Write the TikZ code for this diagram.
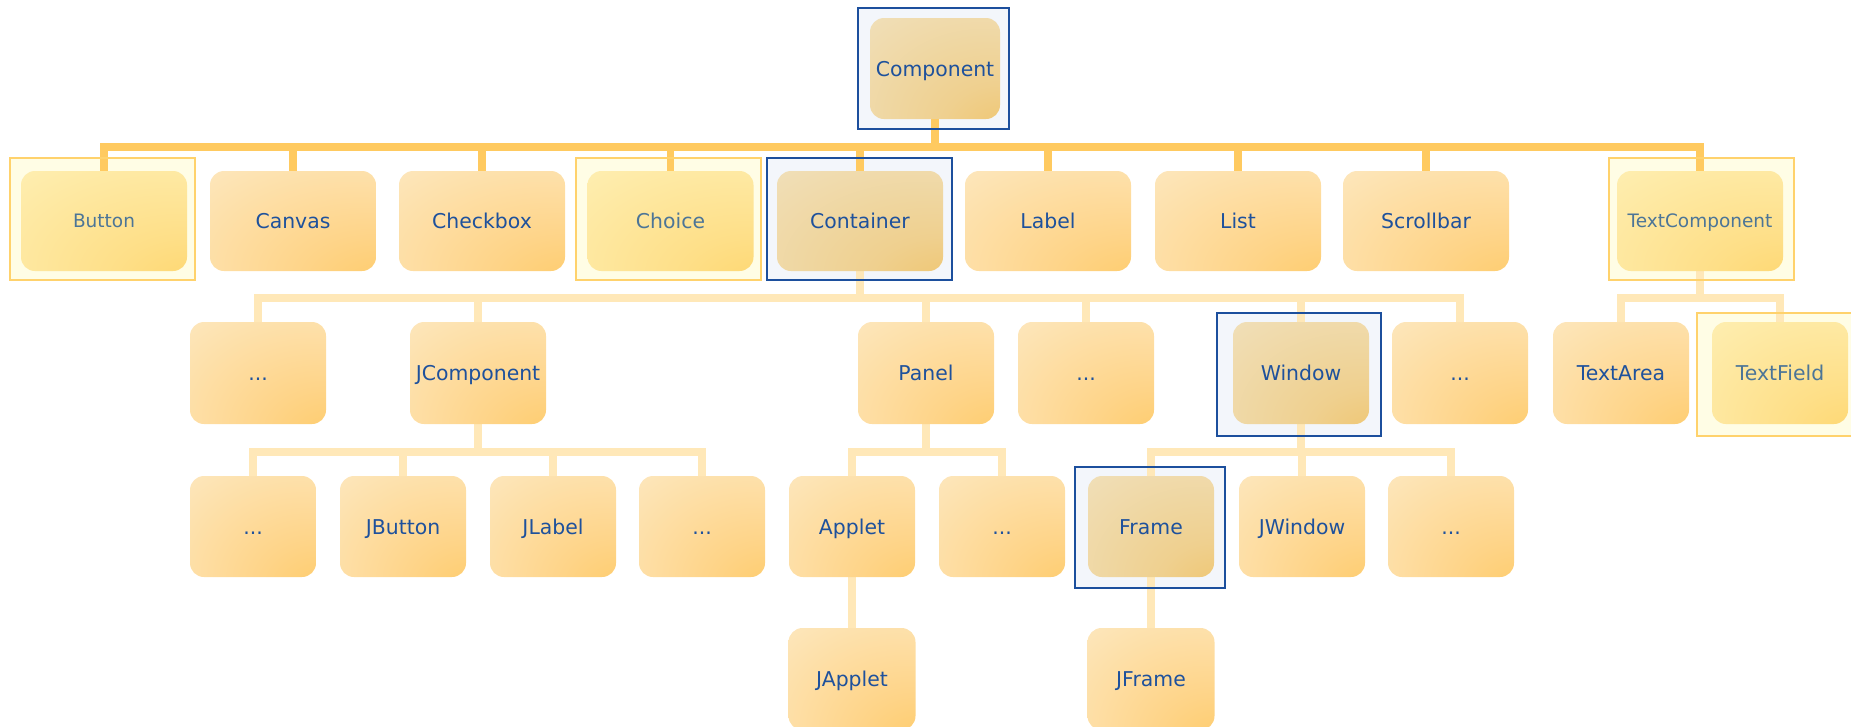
\documentclass[tikz,border=0pt]{standalone}
\usepackage{fontspec}
\setmainfont{DejaVu Sans}
\definecolor{nD}{HTML}{FFC962}
\definecolor{nM}{HTML}{FED488}
\definecolor{nL}{HTML}{FDE9C3}
\definecolor{tD}{HTML}{EEC266}
\definecolor{tM}{HTML}{EFD08F}
\definecolor{tL}{HTML}{F0E1BE}
\definecolor{yD}{HTML}{FFD468}
\definecolor{yM}{HTML}{FEDF88}
\definecolor{yL}{HTML}{FEF0B6}
\definecolor{txt}{HTML}{1E519C}
\definecolor{gtxt}{HTML}{4C7597}
\definecolor{bborder}{HTML}{1C4F9D}
\definecolor{bfill}{HTML}{F3F6FB}
\definecolor{yborder}{HTML}{FFD26C}
\definecolor{yfill}{HTML}{FFFDE5}
\definecolor{topline}{HTML}{FFCA60}
\definecolor{subline}{HTML}{FFE8B8}
\pgfdeclareradialshading{shN}{\pgfpoint{32bp}{-38bp}}{color(0bp)=(nD); color(22bp)=(nM); color(62bp)=(nL); color(100bp)=(nL)}
\pgfdeclareradialshading{shT}{\pgfpoint{32bp}{-38bp}}{color(0bp)=(tD); color(22bp)=(tM); color(62bp)=(tL); color(100bp)=(tL)}
\pgfdeclareradialshading{shY}{\pgfpoint{32bp}{-38bp}}{color(0bp)=(yD); color(22bp)=(yM); color(62bp)=(yL); color(100bp)=(yL)}
\pgfdeclarelayer{back}
\pgfdeclarelayer{lines}
\pgfsetlayers{back,lines,main}
\tikzset{
  cbox/.style={rounded corners=14pt, inner sep=0pt, outer sep=0pt, text=txt,
    font=\fontsize{20.4}{24}\selectfont, text height=15pt, text depth=0pt, shading=shN},
  tanbox/.style={cbox, shading=shT},
  yelbox/.style={cbox, shading=shY, text=gtxt},
  smalltext/.style={font=\fontsize{18.5}{22}\selectfont, text height=13.5pt},
  rowa/.style={minimum width=166pt, minimum height=100pt},
  rowb/.style={minimum width=136pt, minimum height=102pt},
  rowc/.style={minimum width=126pt, minimum height=101pt},
  rowd/.style={minimum width=127pt, minimum height=102pt},
  bframe/.style={draw=bborder, line width=2.6pt, inner sep=0pt, outer sep=0pt},
  yframe/.style={draw=yborder, line width=2.3pt, inner sep=0pt, outer sep=0pt},
  topbus/.style={draw=topline, line width=7.5pt},
  subbus/.style={draw=subline, line width=7.5pt},
}
\begin{document}
\begin{tikzpicture}[x=1pt,y=-1pt]
\useasboundingbox (0,0) rectangle (1851,726);
% frames
\node[bframe, minimum width=151pt, minimum height=121pt] (fcomp) at (933.5,68.5) {};
\node[yframe, minimum width=185pt, minimum height=122pt] (fbutton) at (102.5,219) {};
\node[yframe, minimum width=185pt, minimum height=122pt] (fchoice) at (668.5,219) {};
\node[bframe, minimum width=185pt, minimum height=122pt] (fcontainer) at (859.5,219) {};
\node[yframe, minimum width=185pt, minimum height=122pt] (ftextcomp) at (1701.5,219) {};
\node[bframe, minimum width=164pt, minimum height=123pt] (fwindow) at (1299,374.5) {};
\node[yframe, minimum width=156pt, minimum height=123pt] (ftextfield) at (1775,374.5) {};
\node[bframe, minimum width=150pt, minimum height=121pt] (fframe) at (1150,527.5) {};
\begin{pgfonlayer}{back}
\foreach \f in {fcomp,fcontainer,fwindow,fframe}
  \fill[bfill] (\f.north west) rectangle (\f.south east);
\foreach \f in {fbutton,fchoice,ftextcomp,ftextfield}
  \fill[yfill] (\f.north west) rectangle (\f.south east);
\end{pgfonlayer}
% boxes
\node[tanbox, minimum width=130pt, minimum height=101pt] (component) at (935,68.5) {Component};
\node[yelbox, rowa, smalltext] (button) at (104,221) {Button};
\node[cbox, rowa] (canvas) at (293,221) {Canvas};
\node[cbox, rowa] (checkbox) at (482,221) {Checkbox};
\node[yelbox, rowa] (choice) at (670.5,221) {Choice};
\node[tanbox, rowa] (container) at (860,221) {Container};
\node[cbox, rowa] (label) at (1048,221) {Label};
\node[cbox, rowa] (list) at (1238,221) {List};
\node[cbox, rowa] (scrollbar) at (1426,221) {Scrollbar};
\node[yelbox, rowa, smalltext] (textcomp) at (1700,221) {TextComponent};
\node[cbox, rowb] (dotsa) at (258,373) {...};
\node[cbox, rowb] (jcomp) at (478,373) {JComponent};
\node[cbox, rowb] (panel) at (926,373) {Panel};
\node[cbox, rowb] (dotsb) at (1086,373) {...};
\node[tanbox, rowb] (window) at (1301,373) {Window};
\node[cbox, rowb] (dotsc) at (1460,373) {...};
\node[cbox, rowb] (textarea) at (1621,373) {TextArea};
\node[yelbox, rowb] (textfield) at (1780,373) {TextField};
\node[cbox, rowc] (dotsd) at (253,526.5) {...};
\node[cbox, rowc] (jbutton) at (403,526.5) {JButton};
\node[cbox, rowc] (jlabel) at (553,526.5) {JLabel};
\node[cbox, rowc] (dotse) at (702,526.5) {...};
\node[cbox, rowc] (applet) at (852,526.5) {Applet};
\node[cbox, rowc] (dotsf) at (1002,526.5) {...};
\node[tanbox, rowc] (frame) at (1151,526.5) {Frame};
\node[cbox, rowc] (jwindow) at (1302,526.5) {JWindow};
\node[cbox, rowc] (dotsg) at (1451,526.5) {...};
\node[cbox, rowd] (japplet) at (852,679) {JApplet};
\node[cbox, rowd] (jframe) at (1151,679) {JFrame};
% bus levels
\coordinate (L1) at (0,147);
\coordinate (L2) at (0,298);
\coordinate (L3) at (0,452);
\begin{pgfonlayer}{lines}
\foreach \c in {button,canvas,checkbox,choice,container,label,list,scrollbar,textcomp}
  \draw[topbus] (component.south) -- (component.south |- L1) -| (\c.north);
\foreach \c in {dotsa,jcomp,panel,dotsb,window,dotsc}
  \draw[subbus] (container.south) -- (container.south |- L2) -| (\c.north);
\foreach \c in {textarea,textfield}
  \draw[subbus] (textcomp.south) -- (textcomp.south |- L2) -| (\c.north);
\foreach \c in {dotsd,jbutton,jlabel,dotse}
  \draw[subbus] (jcomp.south) -- (jcomp.south |- L3) -| (\c.north);
\foreach \c in {applet,dotsf}
  \draw[subbus] (panel.south) -- (panel.south |- L3) -| (\c.north);
\foreach \c in {frame,jwindow,dotsg}
  \draw[subbus] (window.south) -- (window.south |- L3) -| (\c.north);
\draw[subbus] (applet.south) -- (japplet.north);
\draw[subbus] (frame.south) -- (jframe.north);
\end{pgfonlayer}
\end{tikzpicture}
\end{document}
